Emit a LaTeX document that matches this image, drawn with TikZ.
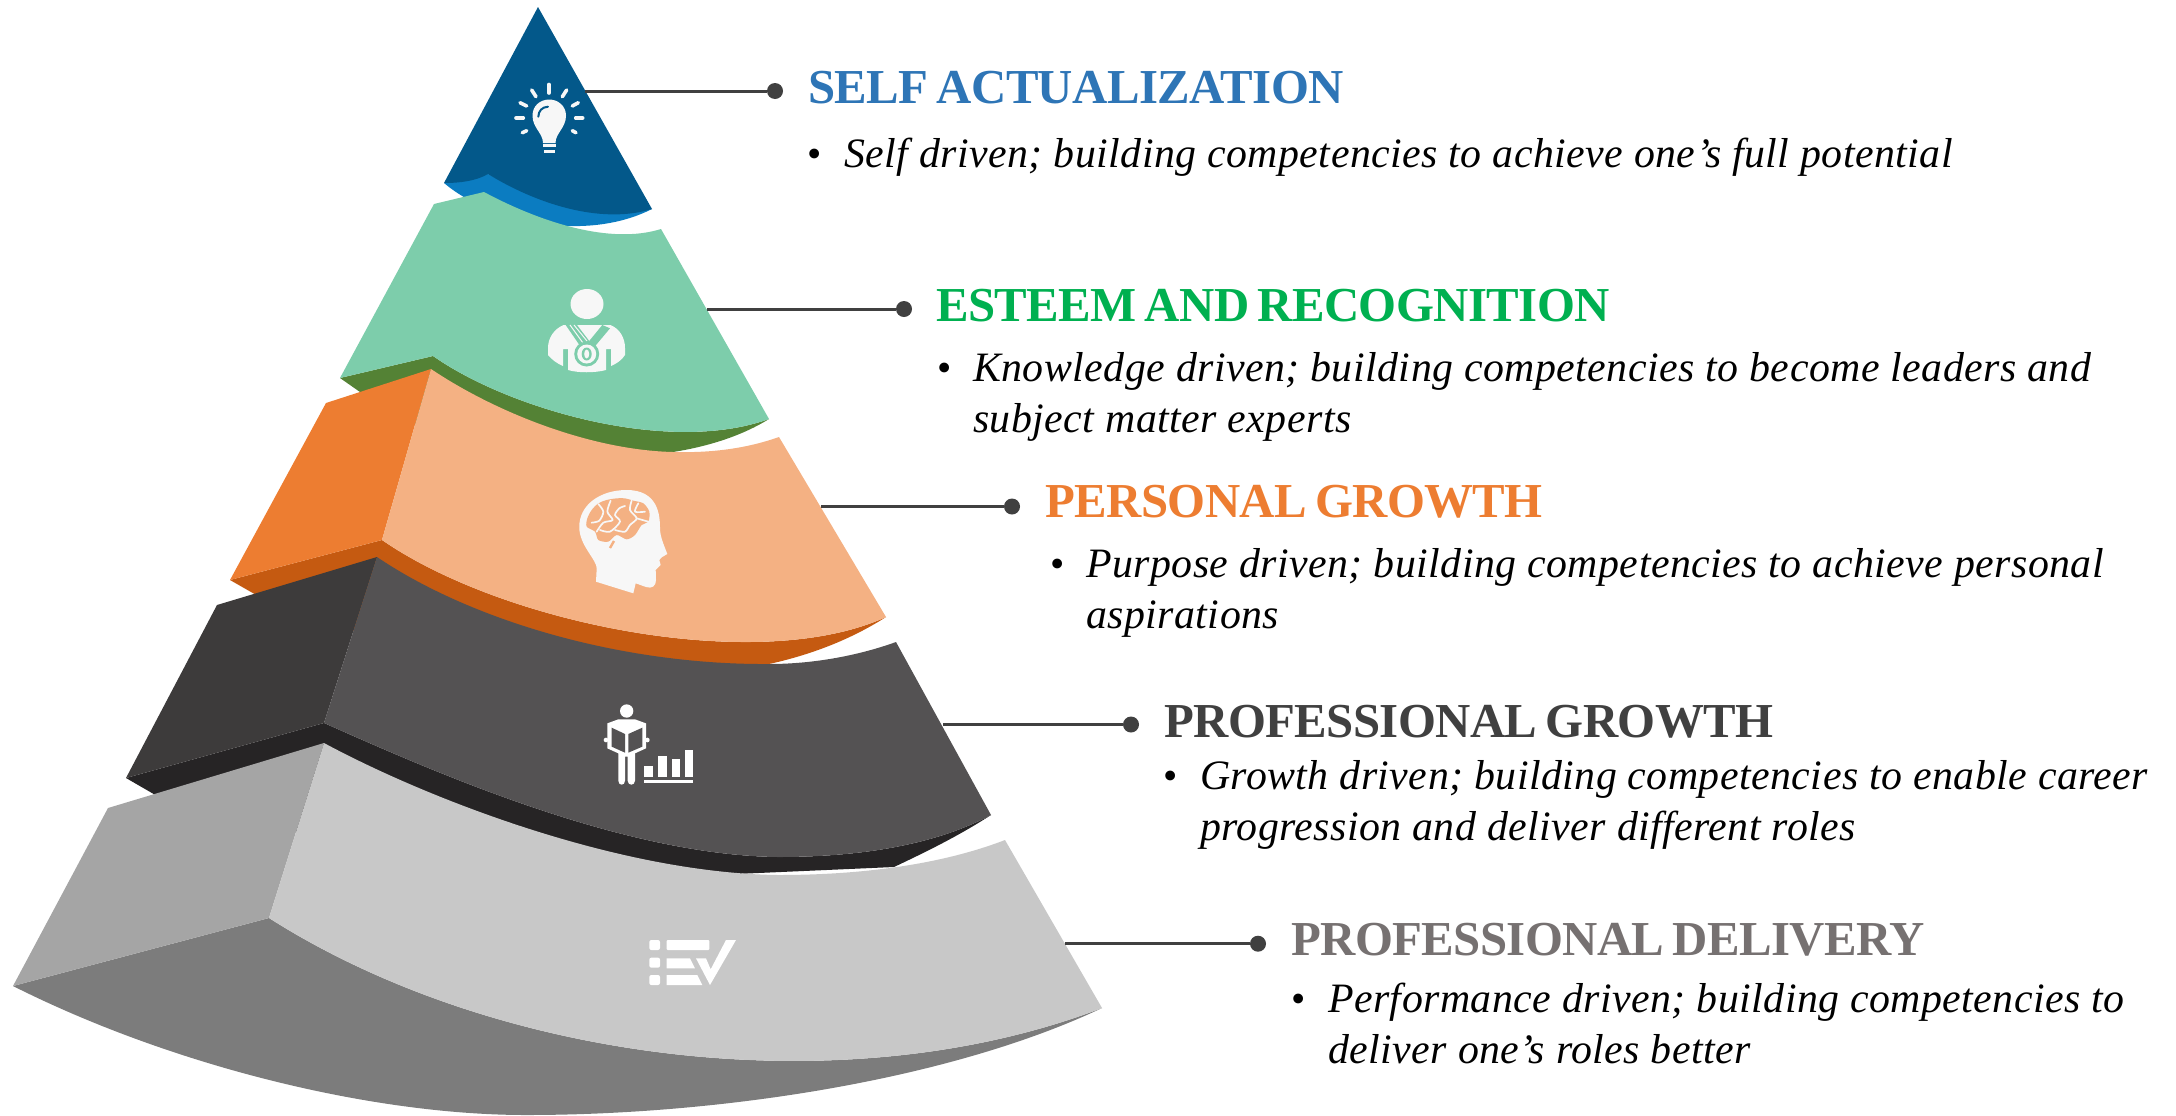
\documentclass[tikz,border=0pt]{standalone}
\usepackage{fontspec}
\setmainfont{Liberation Serif}
\newfontfamily\bodyfont[LetterSpace=1.1]{Liberation Serif}
\newfontfamily\titlefont[LetterSpace=-1.2,WordSpace=0.7]{Liberation Serif}
\definecolor{bluea}{HTML}{03588A}
\definecolor{blueb}{HTML}{0B7CC1}
\definecolor{greena}{HTML}{7DCDAB}
\definecolor{greenb}{HTML}{548235}
\definecolor{orangea}{HTML}{ED7D31}
\definecolor{orangeb}{HTML}{F4B183}
\definecolor{orangec}{HTML}{C55A11}
\definecolor{darka}{HTML}{545253}
\definecolor{darkb}{HTML}{3D3B3B}
\definecolor{darkc}{HTML}{262425}
\definecolor{greya}{HTML}{C8C8C8}
\definecolor{greyb}{HTML}{A5A5A5}
\definecolor{greyc}{HTML}{7C7C7C}
\definecolor{leader}{HTML}{404040}
\definecolor{icon}{HTML}{F7F7F7}
\definecolor{tblue}{HTML}{2E75B6}
\definecolor{tgreen}{HTML}{00B050}
\definecolor{tgrey}{HTML}{767171}
\tikzset{
  title/.style={anchor=base west,inner sep=0pt,font=\fontsize{49}{49}\selectfont\titlefont\bfseries},
  body/.style={anchor=base west,inner sep=0pt,align=left,font=\fontsize{42}{51}\selectfont\bodyfont\itshape},
  bul/.style={anchor=base,inner sep=0pt,font=\fontsize{41}{41}\selectfont},
  dot/.style={circle,fill=leader,draw=none,minimum size=16bp,inner sep=0pt},
  lead/.style={draw=leader,line width=3bp},
  ray/.style={draw=icon,line width=3.6bp,line cap=round},
  brainline/.style={draw=icon,line width=1.7bp,line cap=round,line join=round}
}
\begin{document}
\begin{tikzpicture}[x=1bp,y=-1bp]
\useasboundingbox (0,0) rectangle (2176,1115);
% ---- blue layer
\fill[blueb] (444,183) .. controls (490,222) and (585,243) .. (652,209) .. controls (600,215) and (540,200) .. (488,174) -- cycle;
\fill[bluea] (538,7) -- (444,183) .. controls (460,183) and (476,181) .. (488,174) .. controls (535,203) and (600,225) .. (652,209) -- cycle;
% ---- green layer
\fill[greenb] (340,378) -- (400,420) -- (600,470) -- (673,452) .. controls (705,447) and (740,437) .. (769,419) .. controls (670,455) and (510,410) .. (433,356) -- cycle;
\fill[greena] (340,378) -- (434,204) -- (484,192) .. controls (540,222) and (610,245) .. (661,229) -- (769,419) .. controls (670,455) and (510,410) .. (433,356) -- cycle;
% ---- orange layer
\fill[orangec] (230,580) -- (300,620) -- (600,680) -- (769,664) .. controls (810,655) and (850,640) .. (886,617) .. controls (760,675) and (505,625) .. (382,540) -- cycle;
\fill[orangea] (230,580) -- (326,403) -- (431,369) -- (382,540) -- cycle;
\fill[orangeb] (431,369) .. controls (495,412) and (590,450) .. (673,452) .. controls (710,453) and (745,449) .. (779,437) -- (886,617) .. controls (760,675) and (505,625) .. (382,540) -- cycle;
% ---- dark layer
\fill[darkc] (126,778) -- (190,815) -- (600,880) -- (894,867) .. controls (930,850) and (960,835) .. (991,815) .. controls (935,845) and (860,857) .. (778,857) .. controls (620,855) and (430,770) .. (324,723) -- cycle;
\fill[darkb] (126,778) -- (217,605) -- (377,557) -- (324,723) -- cycle;
\fill[darka] (377,557) .. controls (470,620) and (620,665) .. (769,664) .. controls (815,664) and (860,655) .. (896,642) -- (991,815) .. controls (935,845) and (860,857) .. (778,857) .. controls (620,855) and (430,770) .. (324,723) -- cycle;
% ---- grey layer
\fill[greyc] (13,986) -- (269,918) .. controls (500,1065) and (850,1105) .. (1102,1008) .. controls (950,1080) and (720,1115) .. (526,1115) .. controls (370,1115) and (170,1065) .. (13,986) -- cycle;
\fill[greyb] (13,986) -- (108,808) -- (324,743) -- (269,918) -- cycle;
\fill[greya] (324,743) .. controls (430,800) and (620,873) .. (778,875) .. controls (860,875) and (940,865) .. (1005,840) -- (1102,1008) .. controls (850,1105) and (500,1065) .. (269,918) -- cycle;
% ---- leaders and dots
\coordinate (s1) at (585,91);
\coordinate (s2) at (707,309);
\coordinate (s3) at (821,506.5);
\coordinate (s4) at (943,724.5);
\coordinate (s5) at (1065,943.7);
\node[dot] (d1) at (775,91) {};
\node[dot] (d2) at (904,309) {};
\node[dot] (d3) at (1012,506.5) {};
\node[dot] (d4) at (1131,724.5) {};
\node[dot] (d5) at (1258,943.7) {};
\draw[lead] (s1) -- (d1);
\draw[lead] (s2) -- (d2);
\draw[lead] (s3) -- (d3);
\draw[lead] (s4) -- (d4);
\draw[lead] (s5) -- (d5);
% ---- texts
\node[title,text=tblue] (t1) at (808,103) {SELF ACTUALIZATION};
\node[bul] (b1) at (815,167) {•};
\node[body] (x1) at (844,167) {Self driven; building competencies to achieve one’s full potential};
\node[title,text=tgreen] (t2) at (936,321) {ESTEEM AND RECOGNITION};
\node[bul] (b2) at (945,381) {•};
\node[body] (x2) at (973,432) {Knowledge driven; building competencies to become leaders and\\subject matter experts};
\node[title,text=orangea] (t3) at (1045,517.5) {PERSONAL GROWTH};
\node[bul] (b3) at (1057.5,577) {•};
\node[body] (x3) at (1086,628) {Purpose driven; building competencies to achieve personal\\aspirations};
\node[title,text=leader] (t4) at (1164,737) {PROFESSIONAL GROWTH};
\node[bul] (b4) at (1171,789) {•};
\node[body] (x4) at (1200,840) {Growth driven; building competencies to enable career\\progression and deliver different roles};
\node[title,text=tgrey] (t5) at (1291,955.5) {PROFESSIONAL DELIVERY};
\node[bul] (b5) at (1298.7,1012) {•};
\node[body] (x5) at (1328,1063) {Performance driven; building competencies to\\deliver one’s roles better};
% ---- bulb icon
\fill[icon] (543,143) .. controls (543,133) and (532.5,128) .. (532.5,115.5) .. controls (532.5,106) and (540,99.5) .. (549.3,99.5) .. controls (558,99.5) and (566,106) .. (566,115.5) .. controls (566,128) and (555.5,133) .. (555.5,143) -- cycle;
\fill[icon] (542.5,144) rectangle (556,146.7);
\fill[icon] (544,149.7) rectangle (554.5,152.5);
\draw[bluea,line width=2bp,line cap=round] (538.3,116.7) .. controls (538.5,111) and (542,107) .. (548,106.7);
\draw[ray] (549,84.5) -- (549,93);
\draw[ray] (531.7,90) -- (536,96.7);
\draw[ray] (566.7,90) -- (562.3,96.7);
\draw[ray] (520,102.7) -- (526.7,106);
\draw[ray] (578.3,102.7) -- (572.3,106);
\draw[ray] (516,118) -- (523.3,118);
\draw[ray] (575.7,118) -- (582.7,118);
\draw[ray] (522.3,132.7) -- (526.7,130.7);
\draw[ray] (576,132.7) -- (572.3,130.7);
% ---- medal person icon
\fill[icon] (587,304) ellipse [x radius=16.5,y radius=15];
\fill[icon] (563.5,325) -- (610.5,325) .. controls (620,329) and (625,338) .. (625,348) -- (625,355) .. controls (622,360) and (616,364) .. (611,366) -- (611,349) -- (606,349) -- (606,370) .. controls (595,373) and (578,373) .. (568,370) -- (568,349) -- (563,349) -- (563,366) .. controls (558,364) and (552,360) .. (548,355) -- (548,348) .. controls (548,338) and (554,329) .. (563.5,325) -- cycle;
\fill[greena] (565.7,325) -- (577,325) -- (590,342) -- (581.7,348.3) -- cycle;
\fill[greena] (602.3,325) -- (610,328.3) -- (593.3,348.3) -- (587.3,343.3) -- cycle;
\draw[icon,line width=1bp] (570,325) -- (583,343);
\draw[icon,line width=1bp] (574,325) -- (587,341);
\fill[greena] (586.7,354) circle [radius=12.5];
\fill[icon] (586.7,354) circle [radius=9.5];
\fill[greena] (586.7,354) ellipse [x radius=5,y radius=6.5];
\fill[icon] (586.7,354) ellipse [x radius=2.5,y radius=4.5];
% ---- head icon
\fill[icon] (596,581.7) -- (633.3,593.3) -- (635.7,583.3) -- (646,587) .. controls (652,589) and (656,586) .. (656,580) -- (655.7,570) -- (660.7,565) -- (659.3,560) -- (661.7,557.3) -- (667.3,554) .. controls (664,545) and (660,537) .. (660,528) .. controls (660,515) and (658,490) .. (626.7,490) .. controls (600,490) and (579,505) .. (579.3,527) .. controls (579,545) and (597,560) .. (596.7,568.3) -- cycle;
\begin{scope}[shift={(570,480)},x=0.3333bp,y=-0.3333bp]
\fill[orangeb] plot[smooth cycle] coordinates {(52,115)(65,90)(85,70)(110,60)(140,55)(165,55)(190,62)(220,70)(238,95)(235,125)(215,135)(195,165)(170,178)(140,165)(115,185)(85,180)(75,155)(50,140)};
\draw[brainline] plot[smooth] coordinates {(85,72)(100,95)(88,122)(65,128)};
\draw[brainline] plot[smooth] coordinates {(122,62)(112,95)(128,120)(100,128)(80,155)};
\draw[brainline] plot[smooth] coordinates {(165,78)(148,85)(135,105)(150,125)(120,155)(90,150)};
\draw[brainline] plot[smooth] coordinates {(185,62)(180,90)(200,115)(180,135)(165,155)(135,150)};
\draw[brainline] plot[smooth] coordinates {(205,70)(195,95)(225,95)};
\draw[brainline] plot[smooth] coordinates {(200,115)(235,125)};
\draw[orangeb,line width=2.4bp] (132,183) -- (120,204);
\end{scope}
% ---- reader icon
\begin{scope}[shift={(590,690)},x=0.3333bp,y=-0.3333bp]
\fill[white] (110,63) circle [radius=20];
\fill[white] (52,100) -- (85,88) -- (135,88) -- (168,100) -- (168,175) -- (135,190) -- (135,272) .. controls (135,288) and (113,288) .. (113,272) -- (113,200) -- (105,200) -- (105,272) .. controls (105,288) and (85,288) .. (85,272) -- (85,190) -- (52,175) -- cycle;
\fill[white] (48,150) circle [radius=7];
\fill[white] (172,150) circle [radius=7];
\fill[darka] (65,113) -- (105,132) -- (105,188) -- (65,170) -- cycle;
\fill[darka] (115,132) -- (157,113) -- (157,170) -- (115,188) -- cycle;
\fill[white] (163,228) rectangle (188,262);
\fill[white] (205,198) rectangle (230,262);
\fill[white] (245,208) rectangle (270,262);
\fill[white] (285,180) rectangle (310,262);
\fill[white] (163,270) rectangle (310,279);
\end{scope}
% ---- check-list icon
\begin{scope}[shift={(640,930)},x=0.3333bp,y=-0.3333bp]
\fill[white,rounded corners=2bp] (28,30) rectangle (60,60);
\fill[white,rounded corners=2bp] (28,83) rectangle (60,113);
\fill[white,rounded corners=2bp] (28,135) rectangle (60,165);
\fill[white,rounded corners=1bp] (80,30) rectangle (208,60);
\fill[white] (80,85) -- (150,85) -- (165,115) -- (80,115) -- cycle;
\fill[white] (80,135) -- (172,135) -- (187,165) -- (80,165) -- cycle;
\fill[white] (168,85) -- (198,85) -- (212,118) -- (258,30) -- (288,30) -- (210,165) -- cycle;
\end{scope}
\end{tikzpicture}
\end{document}
